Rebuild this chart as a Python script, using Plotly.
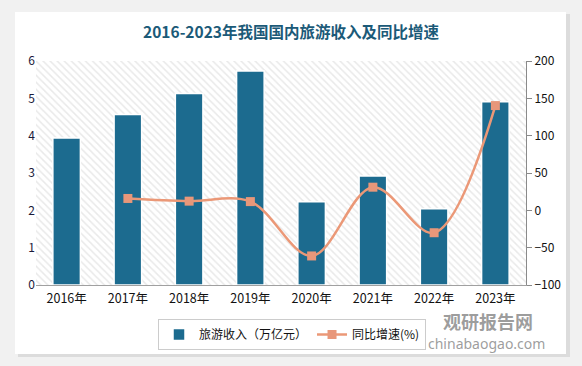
import plotly.graph_objects as go

years = ["2016年", "2017年", "2018年", "2019年", "2020年", "2021年", "2022年", "2023年"]
income = [3.94, 4.57, 5.13, 5.73, 2.23, 2.92, 2.04, 4.91]
growth_years = ["2017年", "2018年", "2019年", "2020年", "2021年", "2022年", "2023年"]
growth = [15.9, 12.3, 11.7, -61.1, 31.0, -30.0, 140.3]

W, H = 582, 366
L, R, T, B = 36, 56, 61, 81
PW, PH = W - L - R, H - T - B


def px(x):
    return (x - L) / PW


def py(y):
    return (H - B - y) / PH


fig = go.Figure()

# hatched plot-area background
fig.add_trace(go.Bar(
    x=[0.5], y=[1], width=[1], xaxis="x", yaxis="y",
    marker=dict(color="white", line=dict(width=0),
                pattern=dict(shape="\\", fgcolor="#d4d4d4", bgcolor="white", size=5, solidity=0.3)),
    showlegend=False, hoverinfo="skip"))

fig.add_trace(go.Bar(
    x=years, y=income, name="旅游收入（万亿元）", xaxis="x2", yaxis="y2",
    width=0.45, marker=dict(color="#1c6b8f", line=dict(color="white", width=1.5))))

fig.add_trace(go.Scatter(
    x=growth_years, y=growth, name="同比增速(%)", xaxis="x2", yaxis="y3",
    mode="lines+markers",
    line=dict(color="#eb9877", width=2.5, shape="spline", smoothing=1.0),
    marker=dict(symbol="square", size=9, color="#e8977a")))

fig.update_layout(
    width=W, height=H,
    margin=dict(l=L, r=R, t=T, b=B, autoexpand=False),
    paper_bgcolor="#f1f1f1",
    plot_bgcolor="rgba(0,0,0,0)",
    font=dict(family="Noto Sans CJK SC, Noto Sans, sans-serif", size=12, color="#222"),
    barmode="overlay",
    title=dict(text="<b>2016-2023年我国国内旅游收入及同比增速</b>",
               x=0.5, xanchor="center", y=1 - 33 / H, yanchor="middle",
               font=dict(size=15.5, color="#1b5a78", family="Noto Sans CJK SC")),
    xaxis=dict(range=[0, 1], visible=False, fixedrange=True),
    yaxis=dict(range=[0, 1], visible=False, fixedrange=True),
    xaxis2=dict(overlaying="x", anchor="y2", type="category", categoryorder="array",
                categoryarray=years, range=[-0.5, 7.5], showline=True, linecolor="#a0a0a0",
                linewidth=1, ticks="", showgrid=False, tickfont=dict(size=12.5, color="#111"),
                ticklabelstandoff=2),
    yaxis2=dict(overlaying="y", anchor="x2", side="left", range=[0, 6], dtick=1,
                showgrid=False, zeroline=False, showline=False,
                tickfont=dict(size=12, color="#1a1a3a")),
    yaxis3=dict(overlaying="y", anchor="x2", side="right", range=[-100, 200], dtick=50,
                showgrid=False, zeroline=False, showline=True, linecolor="#8a8a8a",
                ticks="outside", ticklen=5, tickcolor="#8a8a8a",
                tickfont=dict(size=12, color="#111")),
    legend=dict(orientation="h", x=px(158), y=py(319), xanchor="left", yanchor="top",
                bgcolor="white", bordercolor="#cccccc", borderwidth=1,
                font=dict(size=12, color="#111"), itemwidth=30, traceorder="normal",
                tracegroupgap=0),
    shapes=[
        dict(type="rect", xref="paper", yref="paper", layer="below",
             x0=px(18), x1=px(570), y0=py(357), y1=py(14),
             fillcolor="#dcdcdc", line=dict(width=0)),
        dict(type="rect", xref="paper", yref="paper", layer="below",
             x0=px(15), x1=px(566), y0=py(354), y1=py(12),
             fillcolor="white", line=dict(width=0)),
    ],
    annotations=[
        dict(text="<b>观研报告网</b>", xref="paper", yref="paper", x=px(488), y=py(321),
             xanchor="center", yanchor="middle", showarrow=False,
             font=dict(size=18, color="rgba(140,140,140,0.85)", family="Noto Sans CJK SC")),
        dict(text="chinabaogao.com", xref="paper", yref="paper", x=px(486), y=py(343),
             xanchor="center", yanchor="middle", showarrow=False,
             font=dict(size=14, color="rgba(140,140,140,0.85)", family="Noto Sans")),
    ],
)

fig.write_html("out.html", config={"displayModeBar": False},
               post_script="document.body.style.margin='0';")
